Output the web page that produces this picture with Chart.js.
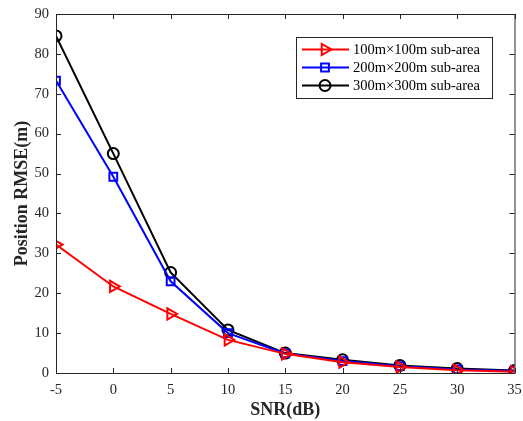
<!DOCTYPE html>
<html><head><meta charset="utf-8">
<script src="https://cdn.jsdelivr.net/npm/chart.js@4/dist/chart.umd.min.js"></script>
<style>html,body{margin:0;padding:0;background:#fff}#wrap{width:523px;height:421px}</style>
</head><body><div id="wrap"><canvas id="c" width="523" height="421"></canvas></div>
<script>
const snr = [-5, 0, 5, 10, 15, 20, 25, 30, 35];
const rmse100 = [32.2, 21.7, 14.8, 8.3, 4.8, 2.7, 1.5, 0.7, 0.3];
const rmse200 = [73.3, 49.2, 23.0, 10.0, 4.9, 3.0, 1.7, 0.9, 0.5];
const rmse300 = [84.5, 55.0, 25.2, 10.8, 5.0, 3.3, 1.9, 1.1, 0.6];
const seriesLabels = ['100m\u00d7100m sub-area', '200m\u00d7200m sub-area', '300m\u00d7300m sub-area'];
const xTicks = [-5, 0, 5, 10, 15, 20, 25, 30, 35];
const yTicks = [0, 10, 20, 30, 40, 50, 60, 70, 80, 90];

const FONT = '"Liberation Serif", "Times New Roman", serif';

const mk = (arr) => snr.map((x, i) => ({x, y: arr[i]}));

const boxPlugin = {
  id: 'box',
  afterDatasetsDraw(chart) {
    const {ctx, chartArea: a, scales} = chart;
    ctx.save();
    ctx.strokeStyle = '#262626';
    ctx.lineWidth = 1;
    ctx.strokeRect(a.left + 0.5, a.top + 0.5, a.right - a.left, a.bottom - a.top);
    const tl = 5;
    ctx.beginPath();
    xTicks.forEach(v => {
      const px = Math.round(scales.x.getPixelForValue(v)) + 0.5;
      ctx.moveTo(px, a.bottom); ctx.lineTo(px, a.bottom - tl);
      ctx.moveTo(px, a.top); ctx.lineTo(px, a.top + tl);
    });
    yTicks.forEach(v => {
      const py = Math.round(scales.y.getPixelForValue(v)) + 0.5;
      ctx.moveTo(a.left, py); ctx.lineTo(a.left + tl, py);
      ctx.moveTo(a.right, py); ctx.lineTo(a.right - tl, py);
    });
    ctx.stroke();

    // legend
    const lx = 296, ly = 37, lw = 196, lh = 61;
    ctx.fillStyle = '#fff';
    ctx.fillRect(lx, ly, lw, lh);
    ctx.strokeStyle = '#262626';
    ctx.lineWidth = 1;
    ctx.strokeRect(lx + 0.5, ly + 0.5, lw, lh);
    ctx.font = '14.5px ' + FONT;
    ctx.textBaseline = 'middle';
    chart.data.datasets.forEach((ds, i) => {
      const y = ly + 12.5 + i * 18;
      ctx.strokeStyle = ds.borderColor;
      ctx.lineWidth = 2;
      ctx.beginPath(); ctx.moveTo(lx + 6, y); ctx.lineTo(lx + 53, y); ctx.stroke();
      ctx.fillStyle = 'rgba(0,0,0,0)';
      Chart.helpers.drawPoint(ctx, {
        pointStyle: ds.pointStyle, radius: ds.pointRadius, rotation: ds.pointRotation || 0, borderWidth: 2
      }, lx + 29, y);
      ctx.fillStyle = '#000';
      ctx.fillText(ds.label, lx + 57, y + 1);
    });
    ctx.restore();
  }
};

new Chart(document.getElementById('c'), {
  type: 'line',
  data: {
    datasets: [
      {label: seriesLabels[0], data: mk(rmse100), borderColor: '#ff0000', backgroundColor: 'rgba(0,0,0,0)',
       pointStyle: 'triangle', pointRotation: 90, pointRadius: 6.5, pointBorderWidth: 2, borderWidth: 2},
      {label: seriesLabels[1], data: mk(rmse200), borderColor: '#0000ff', backgroundColor: 'rgba(0,0,0,0)',
       pointStyle: 'rect', pointRadius: 5.5, pointBorderWidth: 2, borderWidth: 2},
      {label: seriesLabels[2], data: mk(rmse300), borderColor: '#000000', backgroundColor: 'rgba(0,0,0,0)',
       pointStyle: 'circle', pointRadius: 5.5, pointBorderWidth: 2, borderWidth: 2}
    ]
  },
  options: {
    responsive: false,
    animation: false,
    layout: {padding: {top: 14, right: 6, left: 0, bottom: 0}},
    plugins: {legend: {display: false}, tooltip: {enabled: false}},
    elements: {line: {tension: 0}},
    scales: {
      x: {
        type: 'linear', min: -5, max: 35,
        afterBuildTicks: s => { s.ticks = xTicks.map(v => ({value: v})); },
        afterFit: s => { s.height = 48; s.paddingLeft = 0; s.paddingRight = 0; },
        grid: {display: false, drawTicks: false},
        border: {display: false},
        ticks: {font: {family: FONT, size: 14.5}, color: '#262626', padding: 8, maxRotation: 0},
        title: {display: true, text: 'SNR(dB)', font: {family: FONT, size: 18, weight: 'bold'}, color: '#262626', padding: {top: 1, bottom: 0}}
      },
      y: {
        type: 'linear', min: 0, max: 90,
        afterBuildTicks: s => { s.ticks = yTicks.map(v => ({value: v})); },
        afterFit: s => { s.width = 56; s.paddingTop = 0; s.paddingBottom = 0; },
        grid: {display: false, drawTicks: false},
        border: {display: false},
        ticks: {font: {family: FONT, size: 14.5}, color: '#262626', padding: 7},
        title: {display: true, text: 'Position RMSE(m)', font: {family: FONT, size: 18, weight: 'bold'}, color: '#262626', padding: {top: 12, bottom: 0}}
      }
    }
  },
  plugins: [boxPlugin]
});
</script></body></html>
